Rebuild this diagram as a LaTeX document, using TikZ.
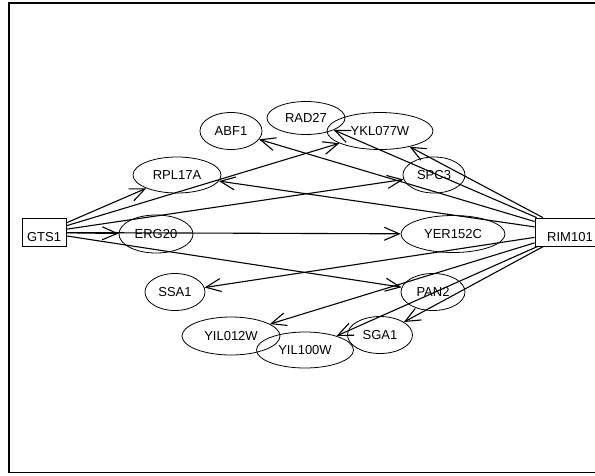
\documentclass[tikz,border=0pt]{standalone}
\usepackage{fontspec}
\setmainfont{Liberation Sans}
\usetikzlibrary{arrows.meta,shapes.geometric}

\begin{document}
\begin{tikzpicture}[
  x=1pt, y=-1pt,
  font=\fontsize{13}{15}\selectfont,
  gene/.style={draw, ellipse, inner sep=0pt, line width=0.8pt},
  hub/.style={draw, rectangle, inner sep=0pt, line width=0.8pt, minimum height=28pt,
    text height=19pt, text depth=1pt},
  arr/.style={-{Straight Barb[length=15pt, width=13pt]}, line width=1.1pt}
]
  \useasboundingbox (0,0) rectangle (595,475);
  \clip (0,0) rectangle (595,475);
  \draw[line width=1.2pt] (9,3) rectangle (620,472.5);

  \node[hub, minimum width=44pt] (gts) at (44,232.5) {GTS1};
  \node[hub, minimum width=70pt] (rim) at (570,232) {RIM101};

  \node[gene, minimum width=74pt, minimum height=38pt] (erg) at (156,234) {ERG20};
  \node[gene, minimum width=88pt, minimum height=36pt] (rpl) at (177,175) {RPL17A};
  \node[gene, minimum width=62pt, minimum height=37pt] (abf) at (231,131) {ABF1};
  \node[gene, minimum width=78pt, minimum height=33pt] (rad) at (306,118) {RAD27};
  \node[gene, minimum width=106pt, minimum height=37pt] (ykl) at (380,131) {YKL077W};
  \node[gene, minimum width=62pt, minimum height=36pt] (spc) at (434,175) {SPC3};
  \node[gene, minimum width=104pt, minimum height=37pt] (yer) at (453,234) {YER152C};
  \node[gene, minimum width=60pt, minimum height=37pt] (ssa) at (175,292) {SSA1};
  \node[gene, minimum width=64pt, minimum height=37pt] (pan) at (433,292) {PAN2};
  \node[gene, minimum width=98pt, minimum height=38pt] (y012) at (231,336) {YIL012W};
  \node[gene, minimum width=97pt, minimum height=36pt] (y100) at (305,350) {YIL100W};
  \node[gene, minimum width=65pt, minimum height=37pt] (sga) at (380,335) {SGA1};

  \draw[arr] (gts) -- (rpl);
  \draw[arr] (gts) -- (ykl);
  \draw[arr] (gts) -- (spc);
  \draw[arr] (gts) -- (erg);
  \draw[arr] (gts) -- (yer);
  \draw[arr] (gts) -- (pan);

  \draw[arr] (rim) -- (abf);
  \draw[arr] (rim) -- (rad);
  \draw[arr] (rim) -- (ykl);
  \draw[arr] (rim) -- (rpl);
  \draw[arr] (rim) -- (ssa);
  \draw[arr] (rim) -- (y012);
  \draw[arr] (rim) -- (y100);
  \draw[arr] (rim) -- (sga);
\end{tikzpicture}
\end{document}
